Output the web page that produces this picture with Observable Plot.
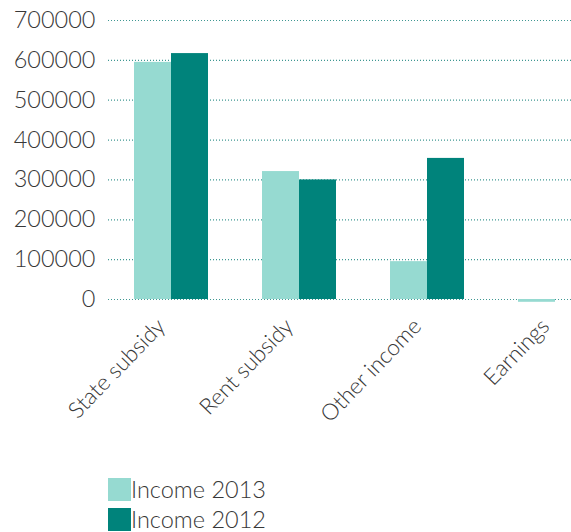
<!DOCTYPE html>
<html>
<head>
<meta charset="utf-8">
<script src="https://cdn.jsdelivr.net/npm/d3@7"></script>
<script src="https://cdn.jsdelivr.net/npm/@observablehq/plot@0.6"></script>
<style>
  html, body { margin: 0; padding: 0; background: #fff; }
  body { width: 571px; height: 532px; overflow: hidden; font-family: Lato, "Open Sans", sans-serif; }
  #chart { position: relative; width: 571px; height: 470px; }
  #chart svg { position: absolute; left: 0; top: 0; overflow: hidden; }
  #chart text { fill: #383838; font-weight: 300; }
  .legend { margin-left: 108px; margin-top: 4px; }
  .item { display: flex; align-items: center; height: 30px; font-size: 23.5px; font-weight: 300; color: #383838; line-height: 23px; }
  .sw { width: 23px; height: 23px; display: inline-block; flex: none; }
</style>
</head>
<body>
<div id="chart"></div>
<script>
const categories = ["State subsidy", "Rent subsidy", "Other income", "Earnings"];
const seriesNames = ["Income 2013", "Income 2012"];
const income2013 = [595000, 321000, 95000, -7000];
const income2012 = [617000, 300000, 354000, 0];
const yTicks = [0, 100000, 200000, 300000, 400000, 500000, 600000, 700000];
const colors = ["#96dad1", "#00837b"];

const data = [];
categories.forEach((c, i) => {
  data.push({cat: c, series: seriesNames[0], value: income2013[i]});
  data.push({cat: c, series: seriesNames[1], value: income2012[i]});
});

const common = {
  width: 571,
  height: 470,
  marginTop: 20,
  marginBottom: 171,
  marginLeft: 108,
  marginRight: 0
};
const font = "Lato, 'Open Sans', sans-serif";

const back = Plot.plot({
  ...common,
  style: {fontFamily: font, fontSize: "23.5px", color: "#383838", background: "#fff"},
  x: {axis: null},
  y: {domain: [0, 700000], ticks: yTicks, tickSize: 0, tickPadding: 13, tickFormat: d => String(d), label: null},
  marks: [
    Plot.ruleY(yTicks, {stroke: "#3f9893", strokeDasharray: "1,2", strokeWidth: 1.2})
  ]
});

const front = Plot.plot({
  ...common,
  style: {fontFamily: font, fontSize: "22px", color: "#383838", background: "transparent"},
  fx: {domain: categories, range: [106, 620], paddingInner: 0.42, paddingOuter: 0.21, label: null, axis: null},
  x: {domain: seriesNames, padding: 0, axis: null},
  y: {domain: [0, 700000], axis: null},
  color: {domain: seriesNames, range: colors},
  marks: [
    Plot.barY(data, {fx: "cat", x: "series", y: "value", fill: "series"}),
    Plot.axisFx({anchor: "bottom", tickRotate: -46, tickSize: 0, tickPadding: 14, dx: -10, dy: 9, fontSize: 22.5, label: null})
  ]
});
const chart = document.getElementById("chart");
chart.appendChild(back);
chart.appendChild(front);

const legend = document.createElement("div");
legend.className = "legend";
seriesNames.forEach((s, i) => {
  const it = document.createElement("div");
  it.className = "item";
  const sw = document.createElement("span");
  sw.className = "sw";
  sw.style.background = colors[i];
  it.appendChild(sw);
  const t = document.createElement("span");
  t.textContent = s;
  it.appendChild(t);
  legend.appendChild(it);
});
document.body.appendChild(legend);
</script>
</body>
</html>
